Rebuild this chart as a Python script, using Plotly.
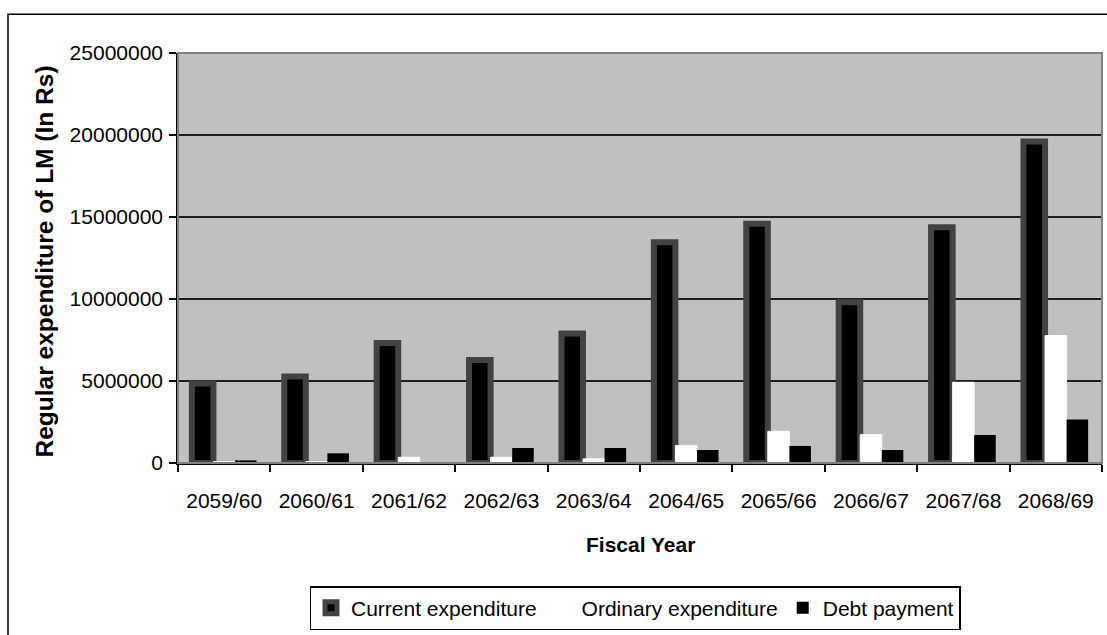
import plotly.graph_objects as go

categories = ["2059/60", "2060/61", "2061/62", "2062/63", "2063/64",
              "2064/65", "2065/66", "2066/67", "2067/68", "2068/69"]
current_exp = [4840000, 5270000, 7310000, 6280000, 7900000,
               13460000, 14590000, 9800000, 14370000, 19600000]
ordinary_exp = [90000, 90000, 350000, 350000, 250000,
                1060000, 1930000, 1730000, 4920000, 7770000]
debt_payment = [160000, 590000, 0, 915000, 915000,
                790000, 1040000, 790000, 1710000, 2650000]
y_ticks = [0, 5000000, 10000000, 15000000, 20000000, 25000000]
y_tick_text = ["0", "5000000", "10000000", "15000000", "20000000", "25000000"]

FONT = "Liberation Sans, Arial, sans-serif"

fig = go.Figure()
fig.add_trace(go.Bar(name="Current expenditure", x=categories, y=current_exp,
                     marker=dict(color="#000000", line=dict(color="#424242", width=6))))
fig.add_trace(go.Bar(name="Ordinary expenditure", x=categories, y=ordinary_exp,
                     marker=dict(color="#ffffff", line=dict(color="#ffffff", width=1))))
fig.add_trace(go.Bar(name="Debt payment", x=categories, y=debt_payment,
                     marker=dict(color="#000000", line=dict(color="#000000", width=0))))

L, R, T, B = 178, 1102, 53, 466
W, H = R - L, B - T

def px(x):
    return (x - L) / W

def py(y):
    return (B - y) / H

fig.update_layout(
    width=1107, height=635,
    margin=dict(l=L, r=1107 - R, t=T, b=635 - B),
    paper_bgcolor="white", plot_bgcolor="#c0c0c0",
    barmode="group", bargap=0.3, bargroupgap=0,
    font=dict(family=FONT, size=21, color="black"),
    showlegend=True,
    legend=dict(orientation="h", x=px(635), xanchor="center", y=py(590), yanchor="top",
                bordercolor="black", borderwidth=1.5, bgcolor="white",
                font=dict(family=FONT, size=21), traceorder="normal",
                itemwidth=30, tracegroupgap=0),
    xaxis=dict(type="category", showline=True, linecolor="black", linewidth=1.5,
               ticks="outside", ticklen=7, tickcolor="black", tickwidth=1.5,
               tickson="boundaries", showgrid=False, ticklabelstandoff=18,
               tickfont=dict(family=FONT, size=21)),
    yaxis=dict(range=[0, 25000000], tickvals=y_ticks, ticktext=y_tick_text,
               showline=True, linecolor="black", linewidth=1.5,
               ticks="outside", ticklen=7, tickcolor="black", tickwidth=1.5,
               showgrid=True, gridcolor="#1e1e1e", gridwidth=2, zeroline=False,
               ticklabelstandoff=2, tickfont=dict(family=FONT, size=21)),
    shapes=[
        dict(type="rect", xref="paper", yref="paper", x0=0, x1=1, y0=0, y1=1,
             line=dict(color="#808080", width=2), fillcolor="rgba(0,0,0,0)", layer="above"),
        dict(type="rect", xref="paper", yref="paper", x0=px(8), x1=px(1200),
             y0=py(700), y1=py(14), line=dict(color="black", width=1.5),
             fillcolor="rgba(0,0,0,0)", layer="below"),
    ],
    annotations=[
        dict(text="<b>Fiscal Year</b>", xref="paper", yref="paper", x=0.5, y=py(548),
             xanchor="center", yanchor="middle", showarrow=False,
             font=dict(family=FONT, size=21)),
        dict(text="<b>Regular expenditure of LM (In Rs)</b>", xref="paper", yref="paper",
             x=px(44), y=py(263), xanchor="center", yanchor="middle", textangle=-90,
             showarrow=False, font=dict(family=FONT, size=24.5)),
    ],
)

fig.write_html("out.html")
